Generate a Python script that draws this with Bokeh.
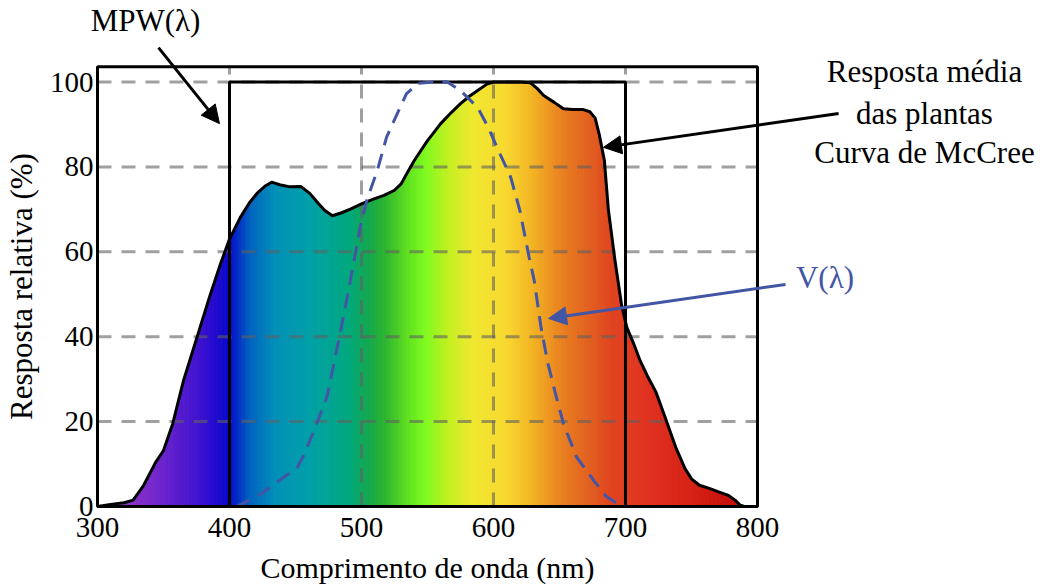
import numpy as np
from bokeh.plotting import figure
from bokeh.models import Range1d, FixedTicker, Label, Arrow, NormalHead
from bokeh.embed import file_html
from bokeh.resources import INLINE

# ---------------- data ----------------
wavelength = [300, 310, 320, 327, 335, 344, 350, 357, 365, 375, 385, 393, 400, 408, 415, 421, 427, 432, 438, 446,
              454, 461, 467, 472, 478, 485, 492, 500, 508, 517, 525, 530, 535, 540, 550, 560, 568, 575, 582, 588,
              595, 600, 610, 620, 628, 633, 638, 646, 653, 660, 668, 673, 677, 680, 684, 687, 692, 697, 701, 706,
              711, 717, 723, 730, 738, 745, 750, 756, 764, 771, 778, 783, 787, 790]
mccree = [0, 0.5, 0.9, 1.5, 5, 10.4, 13.2, 19.5, 29.5, 39.5, 49.5, 57, 63, 68, 71.5, 73.8, 75.5, 76.4, 75.8, 75.3,
          75.4, 73.7, 71.5, 69.8, 68.5, 69.2, 70.1, 71.3, 72.3, 73.3, 74.5, 76, 78.8, 81.5, 86.2, 90.2, 92.8, 94.9, 96.7, 98,
          99.5, 100, 100, 100, 99.8, 98.5, 96.8, 95.2, 93.7, 93.5, 93.5, 93, 91.5, 87.8, 81.5, 70, 58, 47.5, 42.2, 38.5,
          34.4, 30.5, 27, 21, 14, 9, 6.5, 5, 4.2, 3.4, 2.6, 1.5, 0.3, 0]

v_wavelength = [405, 410, 424, 441, 451, 457, 466, 474, 477, 483, 489, 495, 499, 504, 512, 519, 527, 534, 543, 555,
                565, 575, 588, 596, 605, 613, 620, 627, 631, 636, 641, 647, 653, 663, 676, 685, 694, 700]
v_lambda = [0, 0.7, 3, 6.9, 9, 12.5, 19.5, 26, 30.5, 39.6, 49, 59, 65.8, 72.1, 79.2, 87, 92.5, 97.2, 99.7, 100,
            100, 98, 94, 89.3, 83, 77.6, 69.7, 58.7, 53, 42.2, 34, 26.5, 19.5, 11.6, 6.1, 2.5, 0.6, 0]

mpw_x = [400, 400, 700, 700]
mpw_y = [0, 100, 100, 0]

x_ticks = [300, 400, 500, 600, 700, 800]
y_ticks = [0, 20, 40, 60, 80, 100]

# plot box (axis extents)
X0, X1 = 300, 800
Y0, Y1 = 0, 103.6

# ---------------- style: spectral colour stops ----------------
stops = [(300, "#A040C0"), (340, "#7A2ACB"), (380, "#3A10D0"), (400, "#0808CC"), (415, "#0060C0"),
         (435, "#0090B8"), (460, "#00A0A8"), (490, "#00A880"), (505, "#14A850"), (518, "#2CB430"),
         (535, "#60E020"), (548, "#7CFA20"), (565, "#C0F020"), (585, "#F0E830"), (610, "#F8D830"),
         (630, "#F2B424"), (650, "#EA8420"), (670, "#E26420"), (690, "#E04420"), (720, "#E03020"),
         (755, "#D42014"), (790, "#C00808")]


def _rgb(h):
    return [int(h[i:i + 2], 16) for i in (1, 3, 5)]


def color_at(lam):
    if lam <= stops[0][0]:
        return stops[0][1]
    for (l0, c0), (l1, c1) in zip(stops[:-1], stops[1:]):
        if l0 <= lam <= l1:
            t = (lam - l0) / (l1 - l0)
            a, b = _rgb(c0), _rgb(c1)
            return "#%02x%02x%02x" % tuple(int(round(a[i] + (b[i] - a[i]) * t)) for i in range(3))
    return stops[-1][1]


# split each straight segment of the outline into thin strips to paint the spectrum gradient
xs, ys, cols = [], [], []
for i in range(len(wavelength) - 1):
    x0, x1 = wavelength[i], wavelength[i + 1]
    y0, y1 = mccree[i], mccree[i + 1]
    n = max(1, int(round(x1 - x0)))
    for k in range(n):
        a = x0 + (x1 - x0) * k / n
        b = x0 + (x1 - x0) * (k + 1) / n
        ya = y0 + (y1 - y0) * k / n
        yb = y0 + (y1 - y0) * (k + 1) / n
        xs.append([a, a, b, b])
        ys.append([0, ya, yb, 0])
        cols.append(color_at((a + b) / 2))

FONT = "Liberation Serif"
FS_TICK = "29px"
FS_XT = "30px"
FS_YT = "31px"
FS_ANN = "31px"
BLUE = "#4355A5"

W, H = 1046, 586
# canvas pixel position of the plot box and scale
BOX_L, BOX_B = 97, H - 506     # px from left / bottom of canvas
PX_X, PX_Y = 1.32, 4.245       # px per unit
x_range = Range1d(X0 - BOX_L / PX_X, X0 + (W - BOX_L) / PX_X)
y_range = Range1d(Y0 - BOX_B / PX_Y, Y0 + (H - BOX_B) / PX_Y)

p = figure(width=W, height=H, x_range=x_range, y_range=y_range,
           output_backend="svg", toolbar_location=None, min_border=0)

p.background_fill_color = "white"
p.border_fill_color = "white"
p.outline_line_color = None
p.xgrid.visible = False
p.ygrid.visible = False

fill = p.patches(xs, ys, fill_color=cols, line_color=cols, line_width=1)
fill.level = "image"

# grid lines (dashed), above the coloured fill, below the curves
gx = [t for t in x_ticks if X0 < t < X1]
gy = [t for t in y_ticks if Y0 < t <= Y1]
vg = p.segment(x0=gx, y0=[Y0] * len(gx), x1=gx, y1=[Y1] * len(gx),
               line_color="#606060", line_alpha=0.6, line_width=3, line_dash="14 10")
hg = p.segment(x0=[X0] * len(gy), y0=gy, x1=[X1] * len(gy), y1=gy,
               line_color="#606060", line_alpha=0.6, line_width=3, line_dash="14 10")
vg.level = "underlay"
hg.level = "underlay"

# MPW rectangle
p.line(mpw_x, mpw_y, line_color="black", line_width=3)
# McCree curve outline
p.line(wavelength, mccree, line_color="black", line_width=3, line_join="round")
# V(lambda)
p.line(v_wavelength, v_lambda, line_color=BLUE, line_width=3, line_dash="15 9")
# plot box
p.quad(left=[X0], right=[X1], bottom=[Y0], top=[Y1], fill_color=None, line_color="black", line_width=3)

for ax in (p.xaxis[0], p.yaxis[0]):
    ax.axis_line_color = None
    ax.major_tick_line_color = None
    ax.minor_tick_line_color = None
    ax.major_tick_out = 0
    ax.major_tick_in = 0
    ax.minor_tick_out = 0
    ax.major_label_text_font = FONT
    ax.major_label_text_font_size = FS_TICK
    ax.major_label_text_color = "black"
    ax.axis_label_text_font = FONT
    ax.axis_label_text_font_style = "normal"
    ax.axis_label_text_color = "black"

p.xaxis.axis_label_text_font_size = FS_XT
p.yaxis.axis_label_text_font_size = FS_YT
p.xaxis.fixed_location = Y0
p.yaxis.fixed_location = X0
p.xaxis.bounds = (X0, X1)
p.yaxis.bounds = (Y0, Y1)
p.xaxis.ticker = FixedTicker(ticks=x_ticks)
p.yaxis.ticker = FixedTicker(ticks=y_ticks)
p.xaxis.axis_label = "Comprimento de onda (nm)"
p.yaxis.axis_label = "Resposta relativa (%)"
p.xaxis.major_label_standoff = 11
p.xaxis.axis_label_standoff = 11
p.yaxis.major_label_standoff = 4
p.yaxis.axis_label_standoff = 8

# annotations
p.add_layout(Label(x=336.4, y=114.5, text="MPW(λ)", text_font=FONT, text_font_size=FS_ANN,
                   text_align="center", text_baseline="middle", text_color="black"))
p.add_layout(Arrow(x_start=346.2, y_start=108.1, x_end=392.4, y_end=90.2, line_color="black", line_width=3,
                   end=NormalHead(size=18, fill_color="black", line_color="black")))

for txt, yv in (("Resposta média", 102.4), ("das plantas", 92.6), ("Curva de McCree", 83.3)):
    p.add_layout(Label(x=926.5, y=yv, text=txt, text_font=FONT, text_font_size=FS_ANN,
                       text_align="center", text_baseline="middle", text_color="black"))
p.add_layout(Arrow(x_start=861.4, y_start=92.6, x_end=683.3, y_end=84.6, line_color="black", line_width=3,
                   end=NormalHead(size=18, fill_color="black", line_color="black")))

p.add_layout(Label(x=851.1, y=54, text="V(λ)", text_font=FONT, text_font_size=FS_ANN,
                   text_align="center", text_baseline="middle", text_color=BLUE))
p.add_layout(Arrow(x_start=821.2, y_start=52.3, x_end=641.7, y_end=44.3, line_color=BLUE, line_width=3,
                   end=NormalHead(size=18, fill_color=BLUE, line_color=BLUE)))

open("out.html", "w").write(file_html(p, INLINE))
